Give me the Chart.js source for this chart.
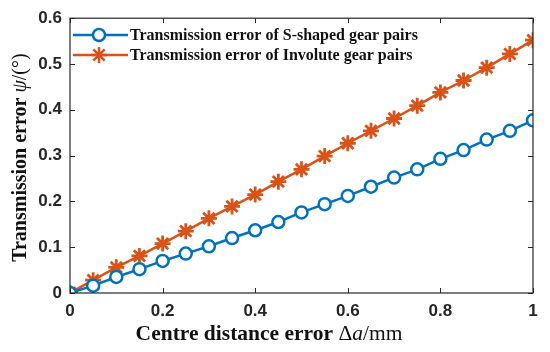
<!DOCTYPE html>
<html lang="en">
<head>
  <meta charset="UTF-8">
  <title>Transmission error</title>
  <script src="https://cdn.jsdelivr.net/npm/chart.js"></script>
  <style>
    html, body { margin: 0; padding: 0; background: #fff; }
    #wrap { width: 550px; height: 352px; }
  </style>
</head>
<body>
  <div id="wrap"><canvas id="teChart" width="550" height="352"></canvas></div>

  <script>
    // centre distance error (mm)
    const xValues = [0, 0.05, 0.1, 0.15, 0.2, 0.25, 0.3, 0.35, 0.4, 0.45, 0.5,
                     0.55, 0.6, 0.65, 0.7, 0.75, 0.8, 0.85, 0.9, 0.95, 1];
    const sShaped = [0, 0.016, 0.035, 0.052, 0.070, 0.086, 0.102, 0.120, 0.137, 0.155, 0.176,
                     0.194, 0.212, 0.232, 0.252, 0.270, 0.293, 0.312, 0.335, 0.354, 0.377];
    const involute = [0, 0.028, 0.056, 0.081, 0.108, 0.135, 0.163, 0.189, 0.215, 0.243, 0.270,
                      0.299, 0.327, 0.354, 0.381, 0.409, 0.438, 0.464, 0.492, 0.522, 0.552];
    const xTicks = [0, 0.2, 0.4, 0.6, 0.8, 1];
    const yTicks = [0, 0.1, 0.2, 0.3, 0.4, 0.5, 0.6];
    const seriesNames = ["Transmission error of S-shaped gear pairs",
                         "Transmission error of Involute gear pairs"];

    const BLUE = "#0072BD", ORANGE = "#D95319";
    const tickFont = { family: "'Liberation Sans', Arial, sans-serif", size: 17, weight: "bold" };
    const serif = "'Liberation Serif', 'Times New Roman', serif";

    const fmt = v => (v === 0 || v === 1) ? String(v) : v.toFixed(1);

    // box + inward ticks, like a matlab axes
    const boxPlugin = {
      id: "box",
      afterDatasetsDraw(chart) {
        const { ctx, chartArea: a, scales } = chart;
        ctx.save();
        ctx.strokeStyle = "#262626";
        ctx.lineWidth = 1;
        ctx.beginPath();
        xTicks.forEach(t => {
          const px = Math.round(scales.x.getPixelForValue(t)) + 0.5;
          ctx.moveTo(px, a.bottom); ctx.lineTo(px, a.bottom - 5);
          ctx.moveTo(px, a.top); ctx.lineTo(px, a.top + 5);
        });
        yTicks.forEach(t => {
          const py = Math.round(scales.y.getPixelForValue(t)) + 0.5;
          ctx.moveTo(a.left, py); ctx.lineTo(a.left + 5, py);
          ctx.moveTo(a.right, py); ctx.lineTo(a.right - 5, py);
        });
        ctx.stroke();
        ctx.lineWidth = 1.2;
        ctx.strokeRect(a.left, a.top, a.right - a.left, a.bottom - a.top);
        ctx.restore();
      }
    };

    function drawParts(ctx, parts, x, y) {
      let w = 0;
      parts.forEach(p => { ctx.font = p[1]; w += ctx.measureText(p[0]).width; });
      let cx = x - w / 2;
      parts.forEach(p => {
        ctx.font = p[1];
        ctx.fillText(p[0], cx, y);
        cx += ctx.measureText(p[0]).width;
      });
    }

    // axis titles and legend
    const textPlugin = {
      id: "texts",
      afterDraw(chart) {
        const { ctx, chartArea: a } = chart;
        ctx.save();
        ctx.fillStyle = "#111";
        ctx.textBaseline = "middle";
        ctx.textAlign = "left";
        drawParts(ctx, [
          ["Centre distance error ", "bold 21.5px " + serif],
          ["\u0394", "21.5px " + serif],
          ["a", "italic 21.5px " + serif],
          ["/mm", "21.5px " + serif]
        ], 269, 334);

        ctx.translate(21, (a.top + a.bottom) / 2 + 2);
        ctx.rotate(-Math.PI / 2);
        drawParts(ctx, [
          ["Transmission error ", "bold 20px " + serif],
          ["\u03c8", "italic 20px " + serif],
          ["/(\u00b0)", "20px " + serif]
        ], 0, 0);
        ctx.restore();

        // legend
        ctx.save();
        const rows = [
          { y: 35, color: BLUE, style: "circle", name: seriesNames[0] },
          { y: 55, color: ORANGE, style: "star", name: seriesNames[1] }
        ];
        rows.forEach(r => {
          ctx.strokeStyle = r.color;
          ctx.lineWidth = 2.5;
          ctx.beginPath();
          ctx.moveTo(73, r.y); ctx.lineTo(128, r.y);
          ctx.stroke();
          ctx.fillStyle = "#fff";
          Chart.helpers.drawPoint(ctx, { pointStyle: r.style, radius: r.style === "circle" ? 6 : 8, borderWidth: 2.8 }, 99, r.y);
          ctx.fillStyle = "#111";
          ctx.font = "bold 16px " + serif;
          ctx.textBaseline = "middle";
          ctx.fillText(r.name, 130, r.y + 1);
        });
        ctx.restore();
      }
    };

    new Chart(document.getElementById("teChart"), {
      type: "line",
      data: {
        datasets: [
          {
            label: seriesNames[0],
            data: xValues.map((x, i) => ({ x: x, y: sShaped[i] })),
            borderColor: BLUE,
            backgroundColor: "#fff",
            borderWidth: 2.5,
            pointStyle: "circle",
            pointRadius: 6,
            pointBorderWidth: 2.5,
            pointBorderColor: BLUE,
            pointBackgroundColor: "#fff",
            tension: 0
          },
          {
            label: seriesNames[1],
            data: xValues.map((x, i) => ({ x: x, y: involute[i] })),
            borderColor: ORANGE,
            backgroundColor: ORANGE,
            borderWidth: 2.5,
            pointStyle: "star",
            pointRadius: 8,
            pointBorderWidth: 2.8,
            pointBorderColor: ORANGE,
            tension: 0
          }
        ]
      },
      options: {
        responsive: false,
        animation: false,
        layout: { padding: { left: 0, top: 17, right: 17, bottom: 0 } },
        plugins: { legend: { display: false }, tooltip: { enabled: false } },
        scales: {
          x: {
            type: "linear",
            min: 0, max: 1,
            afterBuildTicks: s => { s.ticks = xTicks.map(v => ({ value: v })); },
            afterFit: s => { s.height = 59; },
            grid: { display: false, drawTicks: false },
            border: { display: false },
            ticks: { font: tickFont, color: "#262626", padding: 8, maxRotation: 0, callback: v => fmt(v) }
          },
          y: {
            min: 0, max: 0.6,
            afterBuildTicks: s => { s.ticks = yTicks.map(v => ({ value: v })); },
            afterFit: s => { s.width = 70; },
            grid: { display: false, drawTicks: false },
            border: { display: false },
            ticks: { font: tickFont, color: "#262626", padding: 8, callback: v => fmt(v) }
          }
        }
      },
      plugins: [boxPlugin, textPlugin]
    });
  </script>
</body>
</html>
